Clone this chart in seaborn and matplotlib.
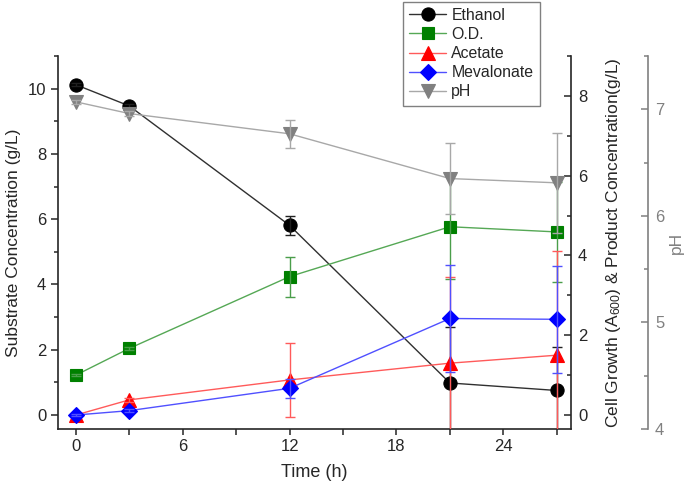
import matplotlib
matplotlib.use("Agg")
import matplotlib.pyplot as plt
import seaborn as sns
from matplotlib.ticker import MultipleLocator

# time course (h)
time = [0, 3, 12, 21, 27]

# substrate (left axis, g/L)
ethanol = [10.12, 9.47, 5.81, 0.98, 0.75]
ethanol_err = [0.05, 0.05, 0.30, 1.72, 1.32]

# cell growth & products (right axis)
od = [1.00, 1.67, 3.47, 4.72, 4.59]
od_err = [0.03, 0.03, 0.50, 1.32, 1.26]
acetate = [0.00, 0.38, 0.88, 1.30, 1.50]
acetate_err = [0.02, 0.05, 0.93, 2.17, 2.60]
mevalonate = [0.00, 0.11, 0.67, 2.42, 2.40]
mevalonate_err = [0.02, 0.03, 0.24, 1.34, 1.34]

# pH (outer right axis)
ph = [7.07, 6.96, 6.77, 6.35, 6.31]
ph_err = [0.02, 0.02, 0.13, 0.33, 0.47]

sns.set_style("ticks")
plt.rcParams["font.family"] = ["Liberation Sans", "DejaVu Sans"]
plt.rcParams["mathtext.default"] = "regular"

fig = plt.figure(figsize=(6.85, 4.9), dpi=100)
ax = fig.add_axes([0.0847, 0.1245, 0.7489, 0.7612])
ax2 = ax.twinx()
ax3 = ax.twinx()
ax3.spines["right"].set_position(("axes", 1.15))


def draw(axis, y, err, line_c, mark_c, marker, ms, err_c):
    sns.lineplot(x=time, y=y, ax=axis, color=line_c, linewidth=1,
                 marker=marker, markersize=ms, markerfacecolor=mark_c,
                 markeredgecolor=mark_c, markeredgewidth=0.8)
    h = axis.lines[-1]
    axis.errorbar(time, y, yerr=err, fmt="none", ecolor=err_c,
                  elinewidth=1, capsize=3.5, capthick=1)
    return h


handles = []
handles.append(draw(ax, ethanol, ethanol_err, "#303030", "black", "o", 9.5, "#202020"))
handles.append(draw(ax2, od, od_err, "#55a855", "#008000", "s", 8, "#4a9e4a"))
handles.append(draw(ax2, acetate, acetate_err, "#ff5a5a", "#ff0000", "^", 9.5, "#ff5a5a"))
handles.append(draw(ax2, mevalonate, mevalonate_err, "#5050ff", "#0000ff", "D", 8, "#5050ff"))
handles.append(draw(ax3, ph, ph_err, "#a8a8a8", "#808080", "v", 9.5, "#a8a8a8"))
labels = ["Ethanol", "O.D.", "Acetate", "Mevalonate", "pH"]

ax.set_xlim(-1, 27.8)
ax.set_ylim(-0.43, 11.0)
ax2.set_ylim(-0.35, 9.0)
ax3.set_ylim(4, 7.5)

ax.xaxis.set_major_locator(MultipleLocator(6))
ax.xaxis.set_minor_locator(MultipleLocator(3))
ax.yaxis.set_major_locator(MultipleLocator(2))
ax.yaxis.set_minor_locator(MultipleLocator(1))
ax2.yaxis.set_major_locator(MultipleLocator(2))
ax2.yaxis.set_minor_locator(MultipleLocator(1))
ax3.yaxis.set_major_locator(MultipleLocator(1))
ax3.yaxis.set_minor_locator(MultipleLocator(0.5))

for a in (ax, ax2, ax3):
    a.spines["top"].set_visible(False)
    for s in a.spines.values():
        s.set_linewidth(1.2)
ax2.spines["left"].set_visible(False)
ax2.spines["bottom"].set_visible(False)
ax3.spines["left"].set_visible(False)
ax3.spines["bottom"].set_visible(False)
ax.spines["right"].set_visible(False)
ax3.spines["right"].set_color("#808080")

ax.tick_params(axis="x", which="major", direction="out", length=4, width=1.1, labelsize=12)
ax.tick_params(axis="x", which="minor", direction="out", length=4, width=1.1)
ax.tick_params(axis="y", which="major", direction="out", length=5, width=1.1, labelsize=12)
ax.tick_params(axis="y", which="minor", direction="out", length=3, width=1.1)
ax2.tick_params(axis="y", which="major", direction="in", length=5, width=1.1, labelsize=12, pad=5)
ax2.tick_params(axis="y", which="minor", direction="in", length=3, width=1.1)
ax3.tick_params(axis="y", which="major", direction="in", length=5, width=1.1, labelsize=12,
                color="#808080", labelcolor="#808080", pad=5)
ax3.tick_params(axis="y", which="minor", direction="in", length=3, width=1.1, color="#808080")

ax.set_xticks([0, 6, 12, 18, 24])
ax.set_xlabel("Time (h)", fontsize=13)
ax.set_ylabel("Substrate Concentration (g/L)", fontsize=12.5)
ax2.set_ylabel("Cell Growth (A$_{600}$) & Product Concentration(g/L)", fontsize=12.5)
ax3.set_ylabel("pH", fontsize=12.5, color="#808080")
ax.yaxis.set_label_coords(-0.072, 0.5)
ax.xaxis.set_label_coords(0.5, -0.094)
ax2.yaxis.set_label_coords(1.065, 0.5)
ax3.yaxis.set_label_coords(1.19, 0.5)

leg = fig.legend(handles, labels, loc="upper left", bbox_to_anchor=(0.586, 1.0),
                 fontsize=11.4, frameon=True, fancybox=False, edgecolor="#606060",
                 handlelength=2.3, borderpad=0.4, labelspacing=0.26, handletextpad=0.35,
                 borderaxespad=0.1)
leg.get_frame().set_linewidth(1.0)

fig.savefig("out.png", dpi=100)
